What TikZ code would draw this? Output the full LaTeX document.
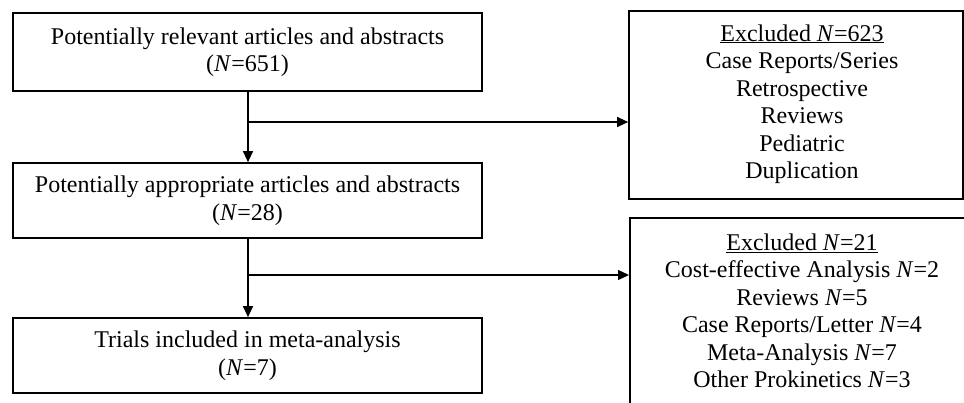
\documentclass[tikz,border=0pt]{standalone}
\usepackage{fontspec}
\setmainfont{Liberation Serif}
\usetikzlibrary{arrows.meta}
\begin{document}
\begin{tikzpicture}[x=1pt,y=-1pt,
  box/.style={draw,line width=1.7pt,rectangle,inner sep=0pt},
  txt/.style={align=center,inner sep=0pt,font=\fontsize{24}{27.5}\selectfont},
  arr/.style={line width=1.3pt,-{Triangle[length=11pt,width=10pt]}}]
\clip (0,0) rectangle (964,403);
\fill[white] (0,0) rectangle (964,403);
% left column
\node[box,minimum width=469pt,minimum height=78pt] (b1) at (247.5,52) {};
\node[txt] (b1t) at (247.5,52) {Potentially relevant articles and abstracts\\(\textit{N}=651)};
\node[box,minimum width=469pt,minimum height=75pt] (b2) at (247.5,200.5) {};
\node[txt] (b2t) at (247.5,200.5) {Potentially appropriate articles and abstracts\\(\textit{N}=28)};
\node[box,minimum width=469pt,minimum height=75pt] (b3) at (247.5,355.5) {};
\node[txt] (b3t) at (247.5,355.5) {Trials included in meta-analysis\\(\textit{N}=7)};
% right column
\node[box,minimum width=334pt,minimum height=188pt] (e1) at (796,105) {};
\node[txt] (e1t) at (802,104) {\underline{Excluded \textit{N}=623}\\Case Reports/Series\\Retrospective\\Reviews\\Pediatric\\Duplication};
\node[box,minimum width=400pt,minimum height=220pt,anchor=north west] (e2) at (629,217) {};
\node[txt] (e2t) at (802,311) {\underline{Excluded \textit{N}=21}\\Cost-effective Analysis \textit{N}=2\\Reviews \textit{N}=5\\Case Reports/Letter \textit{N}=4\\Meta-Analysis \textit{N}=7\\Other Prokinetics \textit{N}=3};
% connectors
\coordinate (j1) at (248,122);
\coordinate (j2) at (248,275);
\draw[arr] (b1.south -| j1) -- (b2.north -| j1);
\draw[arr] (j1) -- (j1 -| e1.west);
\draw[arr] (b2.south -| j2) -- (b3.north -| j2);
\draw[arr] (j2) -- (j2 -| e2.west);
\end{tikzpicture}
\end{document}
